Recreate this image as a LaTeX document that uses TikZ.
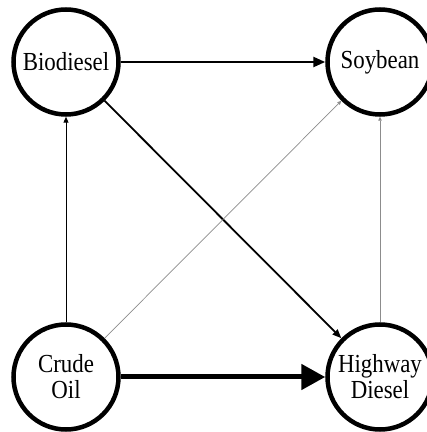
\documentclass[tikz,border=0pt]{standalone}
\usepackage{fontspec}
\setmainfont[FakeStretch = 0.88]{Liberation Serif}
\usetikzlibrary{
  positioning,
  arrows.meta
}

\begin{document}
\begin{tikzpicture}[
    x = 1pt, y = 1pt,
    % Nodes.
    fuel/.style = {
      circle,
      draw = black,
      line width = 4.5pt,
      minimum size = 105pt,
      inner sep = 0pt,
      align = center,
      font = \fontsize{26}{26}\selectfont
    },
    % Links.
    huge link/.style = {
      -{Triangle[length = 24pt, width = 25pt]},
      line width = 5pt
    },
    strong link/.style = {
      -{Triangle[length = 12pt, width = 10pt]},
      line width = 2.5pt
    },
    medium link/.style = {
      -{Triangle[length = 9pt, width = 7pt]},
      line width = 1.8pt
    },
    weak link/.style = {
      -{Triangle[length = 6pt, width = 5pt]},
      line width = 1pt
    },
    faint link/.style = {
      -{Triangle[length = 4pt, width = 3.5pt]},
      line width = .7pt,
      black!45
    }
  ]
  \useasboundingbox (0, 0) rectangle (427, 432);

  % Fuels.
  \node[fuel] (biodiesel) at (66, 370) {Biodiesel};
  \node[fuel] (soybean) at (380, 370) {Soybean};
  \node[fuel] (crude) at (66, 55) {Crude\\Oil};
  \node[fuel] (highway) at (380, 55) {Highway\\Diesel};

  % Links.
  \draw[huge link] (crude) -- (highway);
  \draw[strong link] (biodiesel) -- (soybean);
  \draw[medium link] (biodiesel) -- (highway);
  \draw[weak link] (crude) -- (biodiesel);
  \draw[faint link] (crude) -- (soybean);
  \draw[faint link] (highway) -- (soybean);
\end{tikzpicture}
\end{document}
